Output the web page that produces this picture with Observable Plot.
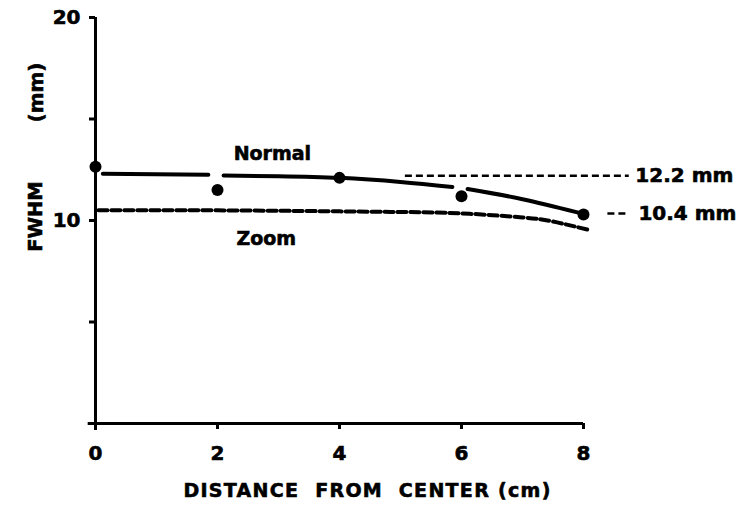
<!DOCTYPE html>
<html>
<head>
<meta charset="utf-8">
<script src="https://cdn.jsdelivr.net/npm/d3@7"></script>
<script src="https://cdn.jsdelivr.net/npm/@observablehq/plot@0.6"></script>
<style>
  body { margin: 0; background: #fff; }
  #chart { width: 745px; height: 512px; }
</style>
</head>
<body>
<div id="chart"></div>
<script>
// Measured points (Normal mode)
const pointX = [0, 2, 4, 6, 8];
const normalY = [12.65, 11.5, 12.1, 11.2, 10.3];

// Fitted curve through Normal data (drawn in segments, broken near points)
const normalFitSeg = [1, 1, 2, 2, 2, 2, 2, 3, 3, 3];
const normalFitX = [0.12, 1.85, 2.1, 3.0, 4.0, 5.0, 5.85, 6.1, 7.0, 7.9];
const normalFitY = [12.3, 12.25, 12.22, 12.18, 12.1, 11.9, 11.65, 11.55, 11.05, 10.4];

// Zoom mode curve
const zoomFitX = [0.05, 2, 4, 5, 6, 7, 7.5, 8.07];
const zoomFitY = [10.5, 10.5, 10.45, 10.42, 10.35, 10.15, 9.95, 9.55];

// Reference levels
const refLabels = ["12.2 mm", "10.4 mm"];
const refY = [12.2, 10.35];
const refX1 = [5.08, 8.4];
const refX2 = [8.75, 8.7];
const refLabelX = [8.85, 8.9];

// Series labels
const seriesNames = ["Normal", "Zoom"];
const seriesLabelX = [2.9, 2.8];
const seriesLabelY = [13.3, 9.1];

// Axis ticks
const xTicks = [0, 2, 4, 6, 8];
const yTicks = [0, 5, 10, 15, 20];
const yTickLabels = {10: "10", 20: "20"};
const xTitle = "DISTANCE\u00a0\u00a0FROM\u00a0\u00a0CENTER\u00a0(cm)";
const yTitleA = "FWHM";
const yTitleB = "(mm)";

const points = pointX.map((x, i) => ({x, y: normalY[i]}));
const normalFit = normalFitX.map((x, i) => ({x, y: normalFitY[i], seg: normalFitSeg[i]}));
const zoomFit = zoomFitX.map((x, i) => ({x, y: zoomFitY[i]}));
const refs = refLabels.map((t, i) => ({t, y: refY[i], x1: refX1[i], x2: refX2[i], lx: refLabelX[i]}));
const series = seriesNames.map((t, i) => ({t, x: seriesLabelX[i], y: seriesLabelY[i]}));

const chart = Plot.plot({
  width: 745,
  height: 512,
  marginLeft: 95,
  marginRight: 162,
  marginTop: 17,
  marginBottom: 89,
  style: {fontFamily: "'DejaVu Sans', sans-serif", fontWeight: "bold", color: "#000", background: "#fff", overflow: "visible"},
  x: {domain: [0, 8]},
  y: {domain: [0, 20]},
  marks: [
    Plot.ruleX([0], {y1: -0.35, y2: 20, stroke: "#000", strokeWidth: 3}),
    Plot.ruleY([0], {x1: -0.12, x2: 8, stroke: "#000", strokeWidth: 3}),
    Plot.axisY({ticks: yTicks, tickFormat: d => yTickLabels[d] ?? "", tickSize: 6, tickPadding: 9, fontSize: 20, fontWeight: "bold", strokeWidth: 3, label: null}),
    Plot.axisX({ticks: xTicks, tickFormat: d => String(d), tickSize: 6, tickPadding: 16, fontSize: 20, fontWeight: "bold", strokeWidth: 3, label: null}),
    Plot.line(zoomFit, {x: "x", y: "y", curve: "natural", stroke: "#000", strokeWidth: 4, strokeDasharray: "9,4"}),
    Plot.line(normalFit, {x: "x", y: "y", z: "seg", curve: "natural", stroke: "#000", strokeWidth: 4}),
    Plot.dot(points, {x: "x", y: "y", r: 6, fill: "#000", stroke: "none"}),
    Plot.ruleY(refs, {y: "y", x1: "x1", x2: "x2", stroke: "#000", strokeWidth: 2.5, strokeDasharray: "7,4"}),
    Plot.text(refs, {x: "lx", y: "y", text: "t", textAnchor: "start", fontSize: 20, fontWeight: "bold", fill: "#000"}),
    Plot.text(series, {x: "x", y: "y", text: "t", fontSize: 19, fontWeight: "bold", fill: "#000"}),
    Plot.text([xTitle], {frameAnchor: "bottom", dx: 28, dy: 73, fontSize: 19, fontWeight: "bold", fill: "#000"}),
    Plot.text([yTitleB], {frameAnchor: "top-left", textAnchor: "middle", dx: -67, dy: 75, rotate: -90, fontSize: 20, fontWeight: "bold", fill: "#000"}),
    Plot.text([yTitleA], {frameAnchor: "top-left", textAnchor: "middle", dx: -67, dy: 199, rotate: -90, fontSize: 19.5, fontWeight: "bold", fill: "#000"})
  ]
});
const texts = d3.select(chart).selectAll("text");
texts.style("stroke", "#000").style("stroke-width", "0.6px").style("paint-order", "normal");
texts.filter(function() { return this.textContent === xTitle; }).style("letter-spacing", "1.3px");
document.getElementById("chart").appendChild(chart);
</script>
</body>
</html>
